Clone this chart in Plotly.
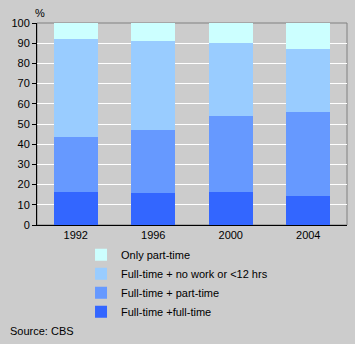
import plotly.graph_objects as go

years = ["1992", "1996", "2000", "2004"]
full_full = [16.4, 16.0, 16.4, 14.4]
full_part = [27.2, 31.1, 37.6, 41.6]
full_none = [48.6, 44.1, 36.2, 31.3]
only_part = [7.8, 8.8, 9.8, 12.7]

series = [
    ("Full-time +full-time", full_full, "#3366FF"),
    ("Full-time + part-time", full_part, "#6699FF"),
    ("Full-time + no work or <12 hrs", full_none, "#99CCFF"),
    ("Only part-time", only_part, "#CCFFFF"),
]

font = dict(family="Liberation Sans, Arial, sans-serif", size=11, color="#000000")

fig = go.Figure()
for name, vals, color in series:
    fig.add_trace(go.Bar(x=years, y=vals, name=name,
                         marker=dict(color=color, line=dict(width=0))))

fig.update_layout(
    barmode="stack",
    bargap=0.43,
    width=355, height=344,
    margin=dict(l=37, r=8, t=23, b=119),
    paper_bgcolor="#CCCCCC",
    plot_bgcolor="#CCCCCC",
    font=font,
    showlegend=True,
    legend=dict(
        traceorder="reversed",
        x=0.142, xanchor="left",
        y=-0.075, yanchor="top",
        bgcolor="rgba(0,0,0,0)",
        font=font,
        itemclick=False,
    ),
    xaxis=dict(
        showline=True, linecolor="#000000", linewidth=1,
        ticks="", showgrid=False, tickfont=font, fixedrange=True,
    ),
    yaxis=dict(
        range=[0, 100], dtick=10,
        showline=True, linecolor="#000000", linewidth=1,
        ticks="outside", ticklen=4, tickcolor="#000000",
        showgrid=True, gridcolor="#FFFFFF", gridwidth=1,
        zeroline=False, tickfont=font, fixedrange=True,
    ),
    shapes=[dict(type="rect", xref="paper", yref="paper", x0=0, x1=1, y0=0, y1=1,
                 line=dict(color="#808080", width=1), layer="below")],
    annotations=[
        dict(text="%", xref="paper", yref="paper", x=0.01, y=1.0, yshift=10,
             xanchor="center", yanchor="middle", showarrow=False, font=font),
        dict(text="Source: CBS", xref="paper", yref="paper", x=-0.094, y=-0.525,
             xanchor="left", yanchor="middle", showarrow=False, font=font),
    ],
)

fig.write_html("out.html")
